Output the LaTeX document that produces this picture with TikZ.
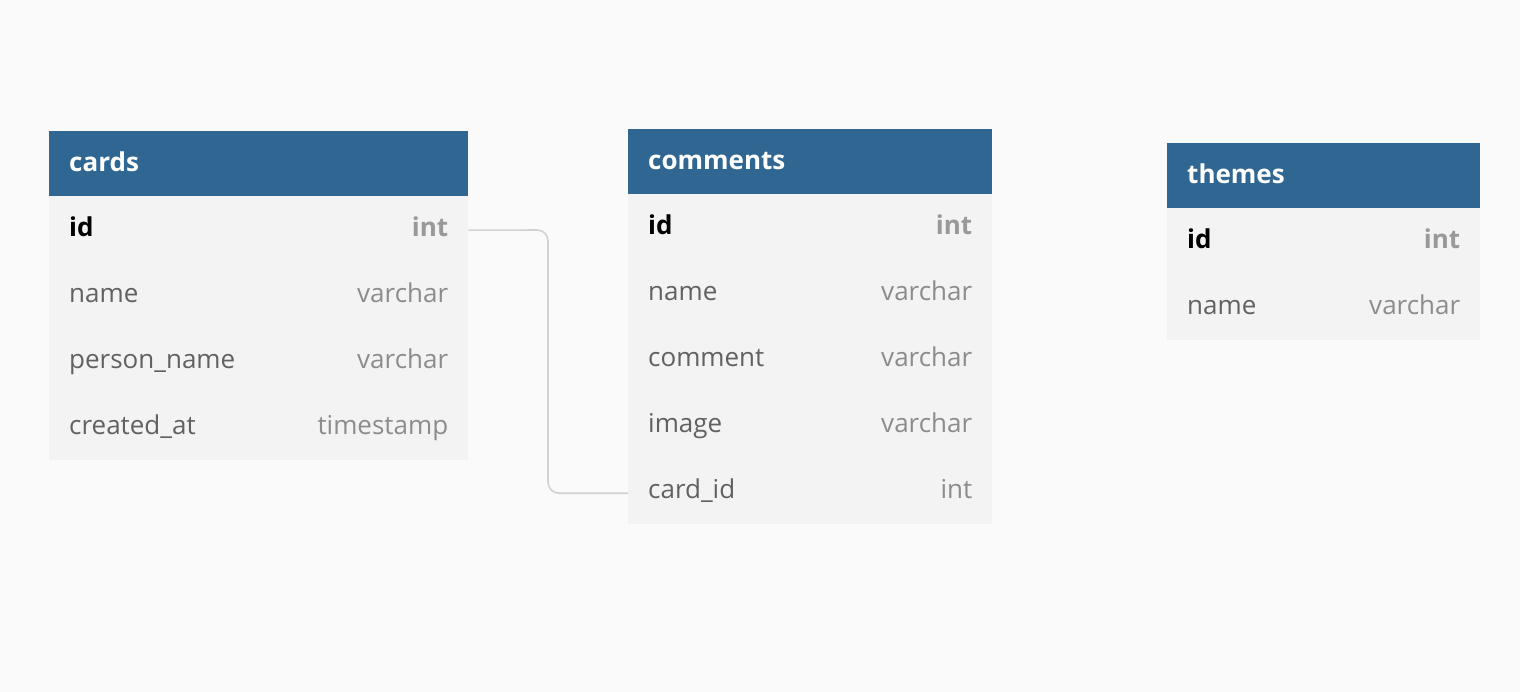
\documentclass[tikz,border=0pt]{standalone}
\usepackage{fontspec}
\setmainfont{Open Sans}
\usetikzlibrary{positioning}
\definecolor{headblue}{HTML}{2F6792}
\definecolor{rowgray}{HTML}{F3F3F3}
\definecolor{pagegray}{HTML}{FAFAFA}
\definecolor{linkgray}{HTML}{D2D2D2}
\tikzset{x=1pt, y=-1pt,
    tablehead/.style={fill=headblue, minimum height=65, anchor=north west, inner sep=0},
    fieldrow/.style={fill=rowgray, minimum height=66, anchor=north west, inner sep=0},
    celltext/.style={inner sep=0, text height=20.5pt, text depth=5.5pt, font=\fontsize{26}{30}\selectfont},
    tabletitle/.style={celltext, anchor=west, text=white, font=\bfseries\fontsize{26}{30}\selectfont},
    key name/.style={celltext, anchor=west, text=black, font=\bfseries\fontsize{26}{30}\selectfont},
    key type/.style={celltext, anchor=east, text=black!40, font=\bfseries\fontsize{26}{30}\selectfont},
    field name/.style={celltext, anchor=west, text=black!62},
    field type/.style={celltext, anchor=east, text=black!45},
    link/.style={draw=linkgray, line width=1.6pt, rounded corners=11pt},
    }
\begin{document}
\begin{tikzpicture}
\fill[pagegray] (0,0) rectangle (1520,692);
\useasboundingbox (0,0) rectangle (1520,692);

% cards
\node[tablehead, minimum width=419] (cards) at (49,131) {};
\node[tabletitle] at ([xshift=20]cards.west) {cards};
\foreach \fname/\ftype/\kind [count=\i] in {id/int/key, name/varchar/field,
    person\_name/varchar/field, created\_at/timestamp/field}{
  \node[fieldrow, minimum width=419] (cards-\i) at (49,{196+66*(\i-1)}) {};
  \node[\kind\space name] at ([xshift=20]cards-\i.west) {\fname};
  \node[\kind\space type] at ([xshift=-20]cards-\i.east) {\ftype};
}

% comments
\node[tablehead, minimum width=364] (comments) at (628,129) {};
\node[tabletitle] at ([xshift=20]comments.west) {comments};
\foreach \fname/\ftype/\kind [count=\i] in {id/int/key, name/varchar/field,
    comment/varchar/field, image/varchar/field, card\_id/int/field}{
  \node[fieldrow, minimum width=364] (comments-\i) at (628,{194+66*(\i-1)}) {};
  \node[\kind\space name] at ([xshift=20]comments-\i.west) {\fname};
  \node[\kind\space type] at ([xshift=-20]comments-\i.east) {\ftype};
}

% themes
\node[tablehead, minimum width=313] (themes) at (1167,143) {};
\node[tabletitle] at ([xshift=20]themes.west) {themes};
\foreach \fname/\ftype/\kind [count=\i] in {id/int/key, name/varchar/field}{
  \node[fieldrow, minimum width=313] (themes-\i) at (1167,{208+66*(\i-1)}) {};
  \node[\kind\space name] at ([xshift=20]themes-\i.west) {\fname};
  \node[\kind\space type] at ([xshift=-20]themes-\i.east) {\ftype};
}

% card_id -> cards.id
\coordinate (bend) at (548,230);
\draw[link] ([yshift=-1]cards-1.east) -- (bend) |- ([yshift=-2]comments-5.west);
\end{tikzpicture}
\end{document}
